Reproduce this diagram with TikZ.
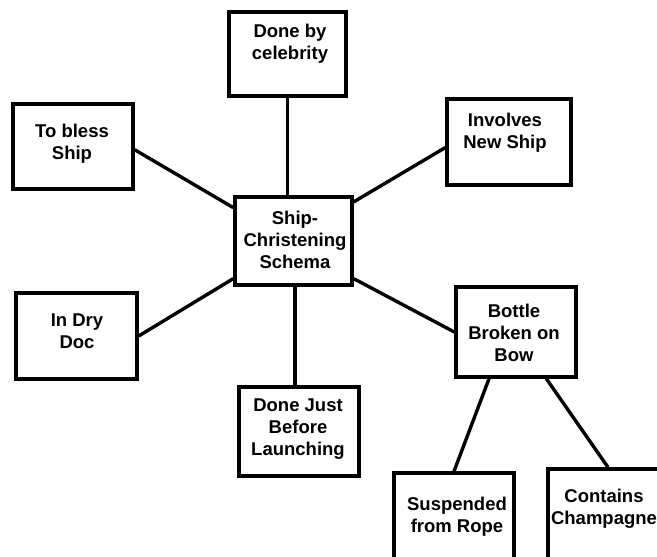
\documentclass[tikz,border=0pt]{standalone}
\usepackage{fontspec}
\setmainfont{Liberation Sans}
\begin{document}
\begin{tikzpicture}[x=1pt,y=-1pt,
  box/.style={draw=black, line width=3.4pt, inner sep=0pt, minimum width=120pt, minimum height=86pt},
  txt/.style={align=center, inner sep=0pt, font=\fontsize{18.5}{22}\selectfont\bfseries},
  link/.style={draw=black, line width=3.4pt}]
\useasboundingbox (0,0) rectangle (657,557);
\clip (0,0) rectangle (657,557);
\fill[white] (0,0) rectangle (657,557);
% boxes
\node[box, minimum width=117pt, minimum height=84pt] (cel) at (287.5,54) {};
\node[box, minimum width=120pt, minimum height=85pt] (bless) at (73,146.5) {};
\node[box, minimum width=124pt, minimum height=86pt] (inv) at (509,142) {};
\node[box, minimum width=117pt, minimum height=88pt] (ctr) at (293.5,241) {};
\node[box, minimum width=121pt, minimum height=86pt] (dry) at (76.5,336) {};
\node[box, minimum width=120pt, minimum height=89pt] (just) at (299,431.5) {};
\node[box, minimum width=120pt, minimum height=90pt] (bot) at (516,332) {};
\node[box, minimum width=120pt, minimum height=90pt] (sus) at (454,518) {};
\node[box, minimum width=120pt, minimum height=90pt] (con) at (608,514) {};
% texts
\node[txt] (celt) at (290,44) {Done by\\celebrity};
\node[txt] (blesst) at (72,144) {To bless\\Ship};
\node[txt] (invt) at (505,133) {Involves\\New Ship};
\node[txt] (ctrt) at (295,240) {Ship-\\Christening\\Schema};
\node[txt] (dryt) at (77,331) {In Dry\\Doc};
\node[txt] (justt) at (298,429) {Done Just\\Before\\Launching};
\node[txt] (bott) at (514,333) {Bottle\\Broken on\\Bow};
\node[txt] (sust) at (457,517) {Suspended\\from Rope};
\node[txt] (cont) at (604,509) {Contains\\Champagne};
% connectors
\draw[link] (cel.south) -- (cel.south |- ctr.north);
\draw[link] (bless.-3) -- (ctr.151);
\draw[link] (inv.185) -- (ctr.33);
\draw[link] (dry.east) -- (ctr.212);
\draw[link] ([xshift=1.5pt]ctr.south) -- ([xshift=1.5pt]ctr.south |- just.north);
\draw[link] (bot.west) -- (ctr.328);
\draw[link] (bot.240) -- (sus.north);
\draw[link] (bot.303) -- (con.north);
\end{tikzpicture}
\end{document}
